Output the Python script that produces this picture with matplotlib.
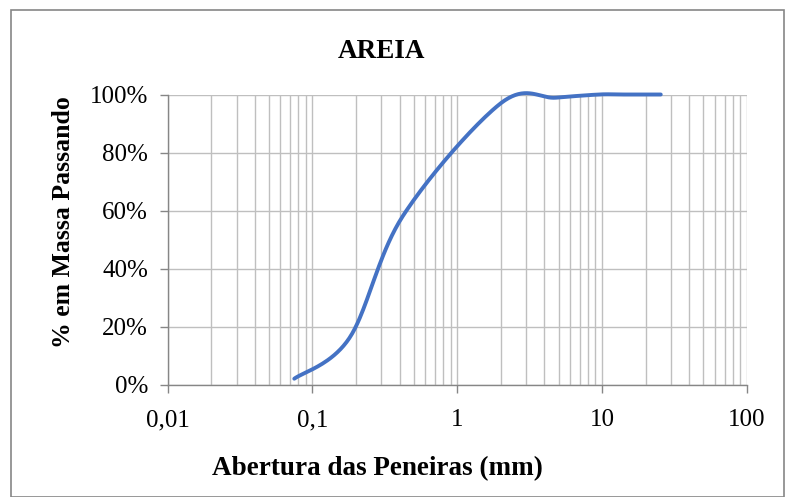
import numpy as np
import matplotlib
matplotlib.use('Agg')
import matplotlib.pyplot as plt
from matplotlib.ticker import FixedLocator, FuncFormatter, LogLocator, NullFormatter
from matplotlib.patches import Rectangle

# ─── Data (sieve openings in mm, % passing) ───
peneiras_mm = [0.075, 0.18, 0.42, 2.0, 4.8, 9.5, 12.7, 19.1, 25.4]
passando_pct = [2.0, 16.0, 58.0, 97.0, 98.9, 100.0, 100.0, 100.0, 100.0]

x_ticks = [0.01, 0.1, 1, 10, 100]
x_tick_labels = ['0,01', '0,1', '1', '10', '100']
y_ticks = [0, 20, 40, 60, 80, 100]

SERIF = ['Liberation Serif', 'DejaVu Serif']
LINE_BLUE = '#4472C4'
GRID_GRAY = '#BFBFBF'
AXIS_GRAY = '#868686'
FS = 18


def excel_smooth(xs, ys, n=40):
    """Catmull-Rom style smoothing (like Excel's smoothed line) in log-x space."""
    u = np.log10(np.asarray(xs, float))
    v = np.asarray(ys, float)
    pts = np.column_stack([u, v])
    out = []
    for i in range(len(pts) - 1):
        p0 = pts[i - 1] if i > 0 else pts[i]
        p1, p2 = pts[i], pts[i + 1]
        p3 = pts[i + 2] if i + 2 < len(pts) else pts[i + 1]
        c1 = p1 + (p2 - p0) / 6.0
        c2 = p2 - (p3 - p1) / 6.0
        t = np.linspace(0, 1, n)[:, None]
        seg = ((1 - t) ** 3) * p1 + 3 * ((1 - t) ** 2) * t * c1 + 3 * (1 - t) * t ** 2 * c2 + t ** 3 * p2
        out.append(seg if i == 0 else seg[1:])
    seg = np.vstack(out)
    return 10 ** seg[:, 0], seg[:, 1]


fig = plt.figure(figsize=(7.87, 4.97), dpi=100)
ax = fig.add_axes([167.5 / 787, 1 - 384.5 / 497, (747 - 167.5) / 787, (384.5 - 94.5) / 497])

sx, sy = excel_smooth(peneiras_mm, passando_pct)
ax.plot(sx, sy, color=LINE_BLUE, linewidth=2.8, solid_capstyle='round', zorder=3, clip_on=False)

ax.set_xscale('log')
ax.set_xlim(0.01, 100)
ax.set_ylim(0, 100)

ax.xaxis.set_major_locator(FixedLocator(x_ticks))
ax.xaxis.set_major_formatter(FuncFormatter(lambda v, p: x_tick_labels[x_ticks.index(v)] if v in x_ticks else ''))
ax.xaxis.set_minor_locator(LogLocator(base=10, subs=np.arange(2, 10)))
ax.xaxis.set_minor_formatter(NullFormatter())
ax.yaxis.set_major_locator(FixedLocator(y_ticks))
ax.yaxis.set_major_formatter(FuncFormatter(lambda v, p: f'{v:.0f}%'))

ax.grid(True, which='both', axis='x', color=GRID_GRAY, linewidth=1.0)
ax.grid(True, which='major', axis='y', color=GRID_GRAY, linewidth=1.0)
ax.set_axisbelow(True)

for side in ['top', 'right']:
    ax.spines[side].set_visible(False)
for side in ['left', 'bottom']:
    ax.spines[side].set_color(AXIS_GRAY)
    ax.spines[side].set_linewidth(1.0)

ax.tick_params(axis='both', which='major', direction='out', length=6, width=1.0,
               color=AXIS_GRAY, labelsize=FS, labelcolor='black')
ax.tick_params(axis='x', which='minor', length=0)
ax.tick_params(axis='x', pad=12)
ax.tick_params(axis='y', pad=8)
for lab in ax.get_xticklabels() + ax.get_yticklabels():
    lab.set_family(SERIF)

fig.text(381 / 787, 1 - 52 / 497, 'AREIA', ha='center', va='center',
         fontsize=19.5, fontweight='bold', family=SERIF)
fig.text(377 / 787, 1 - 469 / 497, 'Abertura das Peneiras (mm)', ha='center', va='center',
         fontsize=19.5, fontweight='bold', family=SERIF)
fig.text(63 / 787, 1 - 222 / 497, '% em Massa Passando', ha='center', va='center',
         rotation=90, fontsize=18.5, fontweight='bold', family=SERIF)

# chart area border
fig.patches.append(Rectangle((11 / 787, 0), (784 - 11) / 787, (497 - 10) / 497,
                             transform=fig.transFigure, fill=False,
                             edgecolor=AXIS_GRAY, linewidth=1.2))

fig.savefig('out.png', dpi=100)
